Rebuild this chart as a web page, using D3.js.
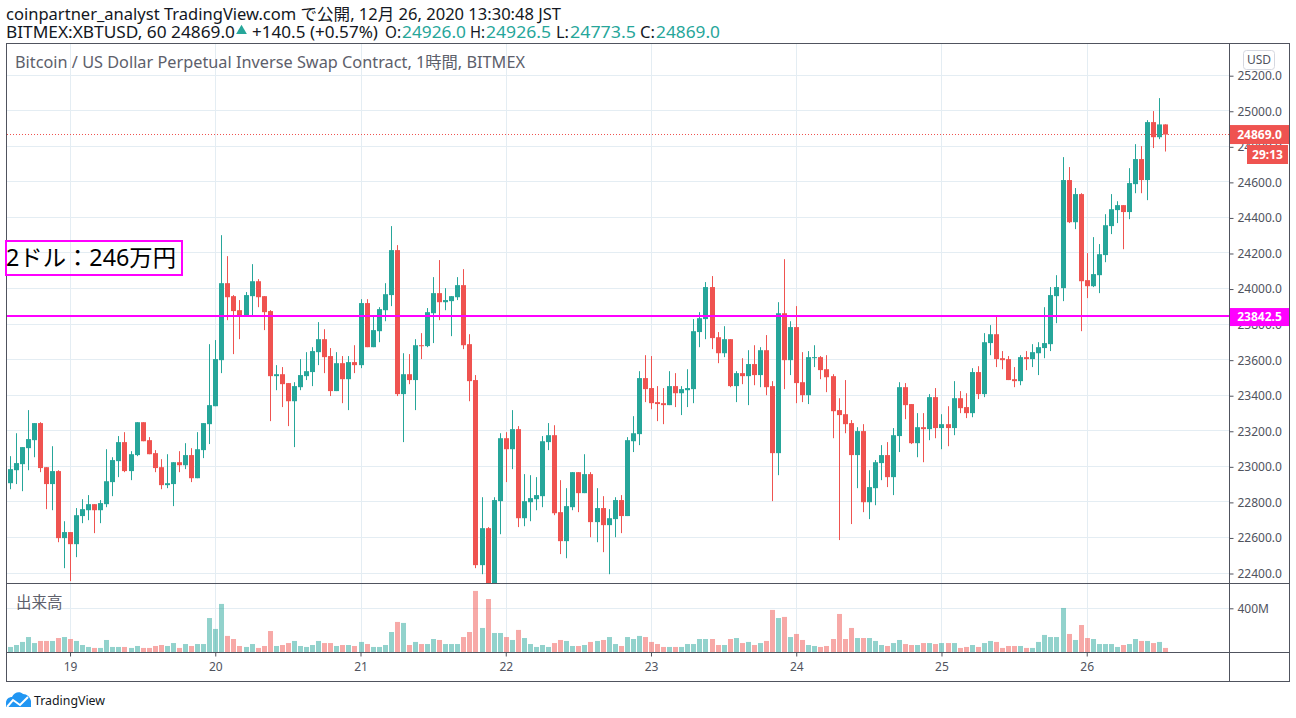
<!DOCTYPE html>
<html>
<head>
<meta charset="utf-8">
<script src="https://cdn.jsdelivr.net/npm/d3@7"></script>
<style>
  body { margin: 0; background: #fff; }
  svg { display: block; }
  text { font-family: "Noto Sans", "Noto Sans CJK JP", sans-serif; }
</style>
</head>
<body>
<script>
"use strict";

// hourly candles, 18 Dec 14:00 JST to 26 Dec 13:00 JST
var opens = [
  22908,22981,23015,23105,23150,23246,22998,22903,22976,22599,
  22633,22565,22723,22756,22790,22756,22790,22914,23032,23139,
  22976,23066,23251,23150,23077,22998,22897,22903,23026,23009,
  23066,22936,23094,23240,23341,23600,24033,23960,23881,23848,
  23960,24044,23960,23876,23510,23521,23471,23369,23448,23510,
  23533,23645,23718,23623,23426,23583,23493,23589,23572,23921,
  23673,23763,23881,23966,24219,23409,23521,23488,23684,23679,
  23864,23977,23926,23932,23954,24022,23690,23488,22447,22655,
  22231,22807,23161,23099,23212,22711,22801,22818,22835,23139,
  23178,22745,22582,22773,22970,22852,22959,22689,22768,22672,
  22706,22813,22723,23144,23184,23499,23443,23364,23358,23347,
  23454,23414,23431,23437,23758,23831,24011,23729,23639,23718,
  23454,23527,23510,23578,23516,23656,23454,23077,23864,23600,
  23786,23476,23403,23611,23617,23549,23510,23319,23296,23246,
  23066,23201,22801,22880,23021,23066,22942,23173,23448,23353,
  23133,23223,23212,23392,23218,23240,23218,23386,23336,23302,
  23533,23409,23696,23746,23611,23606,23493,23482,23617,23606,
  23639,23668,23690,23960,24005,24613,24376,24534,24050,24016,
  24078,24191,24354,24444,24472,24433,24590,24731,24613,24939,
  24854,24926
];
var highs = [
  23060,23189,23111,23319,23246,23251,22998,23116,22981,22694,
  22633,22768,22818,22841,22790,22813,23099,23054,23173,23195,
  23088,23251,23251,23167,23094,23043,23071,23026,23088,23133,
  23105,23195,23246,23690,23713,24303,24185,23966,23938,23983,
  24140,24056,23960,23881,23572,23561,23471,23476,23606,23645,
  23673,23814,23774,23668,23645,23623,23623,23684,23943,23943,
  23848,23898,24033,24354,24247,23639,23634,23718,23752,23893,
  24067,24163,24005,23960,24067,24112,23746,23516,22829,22661,
  22829,23189,23195,23319,23229,22959,22953,22942,23173,23246,
  23234,22925,22880,22970,22970,23071,22970,22880,22835,22762,
  22829,22841,23167,23285,23538,23628,23623,23454,23443,23538,
  23527,23454,23549,23831,23870,24039,24073,23758,23791,23718,
  23538,23611,23656,23684,23673,23741,23482,23926,24168,23819,
  23904,23645,23651,23684,23623,23628,23521,23386,23488,23263,
  23223,23240,22981,23038,23122,23139,23218,23476,23471,23353,
  23302,23302,23409,23443,23296,23341,23482,23426,23414,23555,
  23566,23752,23797,23848,23651,23623,23561,23628,23651,23690,
  23701,23898,24011,24078,24742,24686,24568,24539,24202,24292,
  24253,24421,24534,24494,24472,24680,24815,24804,24950,25001,
  25074,24926.5
];
var lows = [
  22874,22903,22863,22981,23054,22970,22762,22756,22576,22430,
  22357,22492,22683,22700,22627,22683,22773,22835,22942,22970,
  22925,23060,23144,23071,22970,22874,22880,22779,22970,22987,
  22914,22936,23049,23128,23341,23527,23825,23634,23718,23848,
  23848,23898,23769,23257,23431,23336,23229,23111,23431,23488,
  23454,23572,23527,23398,23426,23358,23319,23527,23555,23673,
  23673,23701,23819,23904,23398,23139,23465,23319,23606,23673,
  23696,23825,23881,23735,23938,23662,23369,22430,22396,22200,
  22200,22621,22914,22987,22661,22666,22694,22756,22773,23094,
  22728,22509,22486,22756,22745,22852,22604,22576,22520,22396,
  22604,22627,22723,23083,23122,23364,23324,23257,23240,23347,
  23336,23291,23336,23358,23673,23718,23662,23583,23617,23448,
  23364,23465,23347,23459,23448,23403,22807,22953,23437,23516,
  23358,23364,23353,23561,23493,23420,23161,22588,23189,22678,
  22880,22745,22706,22784,22925,22886,22841,23083,23268,23128,
  23054,23026,23150,23161,23099,23116,23178,23302,23274,23279,
  23381,23392,23628,23561,23549,23488,23448,23459,23544,23561,
  23516,23611,23651,23808,23932,24371,24337,23763,23949,24011,
  23977,24151,24309,24371,24224,24393,24539,24539,24500,24793,
  24843,24773.5
];
var closes = [
  22987,23021,23111,23156,23246,22993,22903,22976,22599,22633,
  22565,22728,22762,22790,22756,22796,22919,23038,23139,22976,
  23071,23251,23144,23071,22993,22897,22908,23026,23009,23066,
  22936,23099,23246,23347,23606,24033,23954,23876,23848,23966,
  24044,23954,23870,23510,23521,23465,23369,23454,23516,23538,
  23651,23718,23617,23426,23583,23493,23589,23572,23921,23673,
  23769,23887,23971,24219,23409,23521,23488,23684,23679,23870,
  23977,23926,23938,23960,24022,23684,23482,22447,22655,22231,
  22813,23161,23099,23212,22711,22807,22824,22841,23144,23178,
  22739,22582,22779,22970,22852,22959,22689,22768,22672,22711,
  22813,22723,23150,23189,23499,23437,23358,23353,23347,23454,
  23414,23437,23443,23763,23836,24011,23724,23639,23718,23454,
  23527,23510,23578,23516,23656,23448,23077,23864,23600,23786,
  23471,23403,23617,23617,23544,23504,23313,23291,23240,23066,
  23201,22801,22886,23026,23066,22942,23178,23448,23347,23133,
  23223,23212,23392,23218,23240,23218,23386,23330,23302,23533,
  23409,23701,23746,23606,23600,23488,23482,23617,23606,23645,
  23673,23696,23966,24011,24613,24376,24534,24044,24016,24084,
  24196,24359,24449,24472,24433,24596,24731,24613,24939,24854,
  24926,24869
];
// volume in millions
var volumes = [
  46,64,92,137,82,101,101,101,128,137,
  119,101,64,46,37,37,110,46,46,46,
  37,55,37,37,55,64,55,82,37,73,
  55,73,73,311,211,440,147,119,55,46,
  73,37,55,192,55,64,82,101,55,46,
  64,101,82,82,55,64,64,55,92,73,
  46,46,64,183,275,266,64,92,73,73,
  119,110,73,73,73,137,183,559,220,485,
  174,174,137,110,202,128,73,46,64,46,
  82,110,101,55,55,64,92,101,110,137,
  73,55,137,119,147,137,92,73,46,46,
  46,46,73,73,119,119,119,64,64,119,
  128,82,92,64,82,101,385,311,321,137,
  165,110,64,55,46,55,119,348,119,220,
  128,128,128,101,64,55,82,110,73,64,
  64,82,82,73,82,82,82,37,46,64,
  46,82,101,92,37,55,55,55,37,37,
  92,156,137,137,403,165,110,247,128,119,
  73,73,73,46,64,73,119,101,101,82,
  92,37
];
var dayLabels = ["19", "20", "21", "22", "23", "24", "25", "26"];
var dayIndexes = [10, 34, 58, 82, 106, 130, 154, 178];
var priceTicks = [22400, 22600, 22800, 23000, 23200, 23400, 23600, 23800, 24000, 24200, 24400, 24600, 24800, 25000, 25200];
var volumeTicks = [400];
var lastPrice = 24869.0;
var levelPrice = 23842.5;

var GREEN = "#26a69a", RED = "#ef5350", MAGENTA = "#ff00ff", GRID = "#e4edf3", FRAME = "#50535e";

var svg = d3.select("body").append("svg").attr("width", 1296).attr("height", 718);

var x = d3.scaleLinear().domain([0, 191]).range([9.5, 1165.4]);
var y = d3.scaleLinear().domain([22400, 25200]).range([573.5, 75.7]);
var yVol = d3.scaleLinear().domain([0, 400]).range([652, 608.3]);

svg.append("clipPath").attr("id", "pane").append("rect")
  .attr("x", 7).attr("y", 44).attr("width", 1222).attr("height", 539.5);

var candles = opens.map(function (o, i) {
  return { i: i, open: o, high: highs[i], low: lows[i], close: closes[i], volume: volumes[i], up: closes[i] >= o };
});

// grid
var grid = svg.append("g").attr("stroke", GRID).attr("stroke-width", 1);
grid.selectAll("line.h").data(priceTicks).join("line").attr("class", "h")
  .attr("x1", 7).attr("x2", 1229)
  .attr("y1", function (d) { return Math.round(y(d)) - 0.5; })
  .attr("y2", function (d) { return Math.round(y(d)) - 0.5; });
grid.selectAll("line.v").data(dayIndexes).join("line").attr("class", "v")
  .attr("x1", function (d) { return Math.round(x(d)) + 0.5; })
  .attr("x2", function (d) { return Math.round(x(d)) + 0.5; })
  .attr("y1", 44).attr("y2", 652);
grid.selectAll("line.vol").data(volumeTicks).join("line").attr("class", "vol")
  .attr("x1", 7).attr("x2", 1229)
  .attr("y1", function (d) { return Math.round(yVol(d)) + 0.5; })
  .attr("y2", function (d) { return Math.round(yVol(d)) + 0.5; });

// volume
svg.append("g").selectAll("rect").data(candles).join("rect")
  .attr("x", function (d) { return Math.round(x(d.i)) - 2; })
  .attr("width", 5)
  .attr("y", function (d) { return yVol(d.volume); })
  .attr("height", function (d) { return yVol(0) - yVol(d.volume); })
  .attr("fill", function (d) { return d.up ? GREEN : RED; })
  .attr("opacity", 0.5);

// last price dotted line
svg.append("line")
  .attr("x1", 7).attr("x2", 1229)
  .attr("y1", Math.floor(y(lastPrice)) + 0.5).attr("y2", Math.floor(y(lastPrice)) + 0.5)
  .attr("stroke", RED).attr("stroke-width", 1).attr("stroke-dasharray", "1 2");

// candles
var candleG = svg.append("g").attr("clip-path", "url(#pane)");
candleG.selectAll("line").data(candles).join("line")
  .attr("x1", function (d) { return Math.round(x(d.i)) + 0.5; })
  .attr("x2", function (d) { return Math.round(x(d.i)) + 0.5; })
  .attr("y1", function (d) { return y(d.high); })
  .attr("y2", function (d) { return y(d.low); })
  .attr("stroke", function (d) { return d.up ? GREEN : RED; })
  .attr("stroke-width", 1);
candleG.selectAll("rect").data(candles).join("rect")
  .attr("x", function (d) { return Math.round(x(d.i)) - 2; })
  .attr("width", 5)
  .attr("y", function (d) { return y(Math.max(d.open, d.close)); })
  .attr("height", function (d) { return Math.max(1, Math.abs(y(d.open) - y(d.close))); })
  .attr("fill", function (d) { return d.up ? GREEN : RED; });

// level line
svg.append("line")
  .attr("x1", 7).attr("x2", 1229)
  .attr("y1", Math.round(y(levelPrice)) - 1).attr("y2", Math.round(y(levelPrice)) - 1)
  .attr("stroke", MAGENTA).attr("stroke-width", 2);

// frame
var frame = svg.append("g").attr("stroke", FRAME).attr("fill", "none").attr("stroke-width", 1);
frame.append("rect").attr("x", 6.5).attr("y", 43.5).attr("width", 1283).attr("height", 638);
frame.append("line").attr("x1", 1229.5).attr("x2", 1229.5).attr("y1", 44).attr("y2", 681);
frame.append("line").attr("x1", 7).attr("x2", 1289).attr("y1", 583.5).attr("y2", 583.5);
frame.append("line").attr("x1", 7).attr("x2", 1289).attr("y1", 652.5).attr("y2", 652.5);

// axes
function styleAxis(g) {
  g.select(".domain").remove();
  g.selectAll("line").attr("stroke", FRAME);
  g.selectAll("text").attr("fill", FRAME).style("font-size", "12px");
}
svg.append("g").attr("transform", "translate(1229.5,0)")
  .call(d3.axisRight(y).tickValues(priceTicks).tickSize(4).tickPadding(4)
    .tickFormat(function (d) { return d.toFixed(1); }))
  .call(styleAxis);
svg.append("g").attr("transform", "translate(1229.5,0)")
  .call(d3.axisRight(yVol).tickValues(volumeTicks).tickSize(4).tickPadding(4)
    .tickFormat(function (d) { return d + "M"; }))
  .call(styleAxis);
svg.append("g").attr("transform", "translate(0,652.5)")
  .call(d3.axisBottom(x).tickValues(dayIndexes).tickSize(4).tickPadding(6)
    .tickFormat(function (d) { return dayLabels[dayIndexes.indexOf(d)]; }))
  .call(styleAxis);

// price labels
function priceLabel(yc, txt, fill, x0, w, h) {
  svg.append("rect").attr("x", x0).attr("y", yc - h / 2).attr("width", w).attr("height", h).attr("fill", fill);
  svg.append("text").attr("x", x0 + w / 2).attr("y", yc).attr("dy", "0.35em")
    .attr("text-anchor", "middle").attr("fill", "#fff")
    .style("font-size", "12px").style("font-weight", "700").text(txt);
}
priceLabel(y(lastPrice), lastPrice.toFixed(1), RED, 1230, 59, 19);
priceLabel(154.5, "29:13", RED, 1247, 41, 19);
priceLabel(y(levelPrice), levelPrice.toFixed(1), MAGENTA, 1230, 59, 18);

// currency badge
svg.append("rect").attr("x", 1243.5).attr("y", 50.5).attr("width", 31).attr("height", 19).attr("rx", 3)
  .attr("fill", "#fff").attr("stroke", "#d6d8e0");
svg.append("text").attr("x", 1259).attr("y", 60).attr("dy", "0.35em").attr("text-anchor", "middle")
  .attr("fill", FRAME).style("font-size", "12px").text("USD");

// header
function headText(px, py, txt, fill, size, len) {
  var t = svg.append("text").attr("x", px).attr("y", py).attr("fill", fill).style("font-size", size + "px").text(txt);
  if (len) { t.attr("textLength", len).attr("lengthAdjust", "spacingAndGlyphs"); }
  return t;
}
var INK = "#131722";
headText(6, 20, "coinpartner_analyst TradingView.com で公開, 12月 26, 2020 13:30:48 JST", INK, 16, 555);
headText(6, 38, "BITMEX:XBTUSD, 60 24869.0", INK, 16, 229);
svg.append("path").attr("d", d3.symbol(d3.symbolTriangle, 50)).attr("fill", GREEN).attr("transform", "translate(241.5,31)");
headText(252, 38, "+140.5 (+0.57%)", INK, 16, 126);
headText(385, 38, "O:", INK, 16, 16);
headText(402, 38, "24926.0", GREEN, 16, 64);
headText(470, 38, "H:", INK, 16, 15);
headText(486, 38, "24926.5", GREEN, 16, 65);
headText(556, 38, "L:", INK, 16, 13);
headText(570, 38, "24773.5", GREEN, 16, 66);
headText(640, 38, "C:", INK, 16, 15);
headText(656, 38, "24869.0", GREEN, 16, 64);

headText(15, 68, "Bitcoin / US Dollar Perpetual Inverse Swap Contract, 1時間, BITMEX", "#5d606b", 16, 510);
headText(16, 608, "出来高", "#5d606b", 15.5);

// note box
svg.append("rect").attr("x", 6).attr("y", 241).attr("width", 176).attr("height", 34)
  .attr("fill", "none").attr("stroke", MAGENTA).attr("stroke-width", 2);
headText(6, 266, "2ドル：246万円", "#000", 23, 170);

// footer logo
svg.append("path")
  .attr("d", "M6 703C6 699 9 697 12 697C14 692 20 691 23 694C27 694 30 697 31 701L31 707L6 707Z")
  .attr("fill", "#2196f3");
svg.append("polyline").attr("points", "7,707 13,700 20,705 28,697")
  .attr("fill", "none").attr("stroke", "#fff").attr("stroke-width", 2);
headText(34, 705, "TradingView", INK, 13, 71);
</script>
</body>
</html>
